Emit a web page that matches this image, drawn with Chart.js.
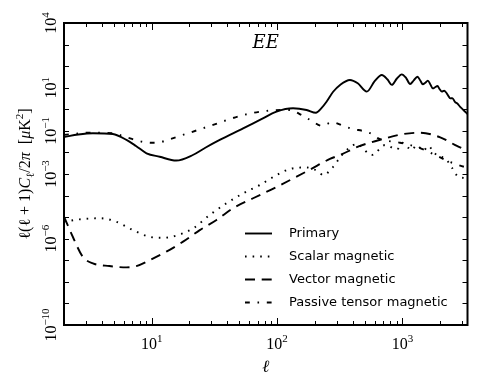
<!DOCTYPE html>
<html>
<head>
<meta charset="utf-8">
<script src="https://cdn.jsdelivr.net/npm/chart.js@4/dist/chart.umd.min.js"></script>
<style>
html,body{margin:0;padding:0;background:#fff;}
#c{display:block;}
</style>
</head>
<body>
<canvas id="c" width="479" height="388"></canvas>
<script>
// ---- data ----
const primaryL = [2, 2.6, 3.4, 4.9, 6.3, 7.5, 9.1, 11.6, 15.7, 21.3, 27, 34.9, 53.6, 75, 99, 134, 172, 204, 225, 248, 280, 318, 381, 440, 519, 600, 684, 760, 822, 900, 987, 1070, 1150, 1230, 1316, 1390, 1452, 1520, 1593, 1670, 1746, 1820, 1901, 1980, 2060, 2150, 2230, 2320, 2400, 2500, 2620, 2750, 2884, 3050, 3300];
const primaryV = [5.2e-2, 6.8e-2, 7.8e-2, 7.1e-2, 3.8e-2, 2.0e-2, 9.1e-3, 6.3e-3, 4.2e-3, 7.6e-3, 1.7e-2, 3.8e-2, 0.13, 0.35, 0.78, 1.11, 0.93, 0.69, 1.1, 2.24, 6.5, 13.5, 22.9, 16, 6.6, 20, 38.9, 24, 13.5, 26, 41.7, 28, 14.8, 22, 32.4, 21, 14.5, 17, 21.4, 14, 9.3, 10.5, 12.0, 8.5, 6.6, 7.2, 6.0, 4.2, 3.2, 3.3, 2.2, 1.8, 1.3, 0.95, 0.6];

const scalarL = [2, 2.66, 3.85, 5.2, 7.1, 9.6, 12.3, 15.7, 21.4, 29, 39.5, 53.6, 73, 99, 131, 172, 213, 233, 281, 329, 432, 569, 727, 906, 1000, 1186, 1300, 1462, 1612, 1788, 2060, 2250, 2490, 2800, 3300];
const scalarV = [6.2e-6, 7.9e-6, 8.9e-6, 6.2e-6, 2.5e-6, 1.23e-6, 1.1e-6, 1.4e-6, 3.0e-6, 1.26e-5, 4.4e-5, 1.26e-4, 3.1e-4, 8.9e-4, 1.8e-3, 2.0e-3, 1.3e-3, 8.9e-4, 2.2e-3, 7.6e-3, 2.4e-2, 7.6e-3, 2.2e-2, 1.4e-2, 2.8e-2, 1.3e-2, 2.2e-2, 1.2e-2, 2.0e-2, 9.4e-3, 6.2e-3, 4.5e-3, 1.9e-3, 7.3e-4, 6.5e-4];

const vectorL = [2, 2.35, 2.82, 3.4, 4.6, 6.3, 7.55, 9.6, 13.1, 17.8, 24.2, 32.9, 44.6, 64.4, 99, 183, 264, 318, 458, 703, 1016, 1380, 2000, 2716, 3300];
const vectorV = [1.05e-5, 1.23e-6, 1.47e-7, 7.2e-8, 5.4e-8, 4.7e-8, 5.4e-8, 1.0e-7, 2.5e-7, 7.3e-7, 2.5e-6, 7.4e-6, 2.6e-5, 7.5e-5, 2.5e-4, 1.6e-3, 5.0e-3, 7.6e-3, 2.0e-2, 4.2e-2, 7.1e-2, 8.2e-2, 5.0e-2, 2.0e-2, 1.2e-2];

const tensorL = [2, 3.2, 4.9, 6.3, 9.1, 10.9, 13.9, 20.1, 30.9, 53.6, 85, 126, 157, 189, 227, 277, 337, 405, 487, 579, 642, 957, 1380, 1820, 2400, 3300];
const tensorV = [6.5e-2, 8.2e-2, 7.8e-2, 5.0e-2, 2.9e-2, 2.8e-2, 4.1e-2, 8.2e-2, 0.19, 0.54, 0.86, 0.93, 0.54, 0.29, 0.17, 0.25, 0.17, 0.12, 9.8e-2, 6.9e-2, 4.5e-2, 2.8e-2, 1.6e-2, 7.6e-3, 3.6e-3, 1.9e-3];

const seriesNames = ['Primary', 'Scalar magnetic', 'Vector magnetic', 'Passive tensor magnetic'];
const xTickExps = [1, 2, 3];
const yTickExps = [4, 1, -1, -3, -6, -10];
const xMin = 2, xMax = 3300, yMin = 1e-10, yMax = 1e4;
const panelLabel = 'EE';

// ---- chart ----
const SERIF = '"Liberation Serif","DejaVu Serif",serif';
const SANS = '"DejaVu Sans",sans-serif';
const toXY = (L, V) => L.map((l, i) => ({x: l, y: V[i]}));
const dashes = [[], [1.6, 6], [10, 6.7], [4.8, 7.7, 1.6, 7.7]];
const lw = 1.9;

const datasets = [
  {label: seriesNames[0], data: toXY(primaryL, primaryV)},
  {label: seriesNames[1], data: toXY(scalarL, scalarV)},
  {label: seriesNames[2], data: toXY(vectorL, vectorV)},
  {label: seriesNames[3], data: toXY(tensorL, tensorV)}
].map((d, i) => Object.assign(d, {
  borderColor: '#000', borderWidth: lw, borderDash: dashes[i],
  pointRadius: 0, fill: false, cubicInterpolationMode: 'monotone'
}));

function supLabel(ctx, base, sup, cx, baseline, bf, sf, rise) {
  ctx.font = bf; const wb = ctx.measureText(base).width;
  ctx.font = sf; const ws = ctx.measureText(sup).width;
  const x0 = cx - (wb + ws) / 2;
  ctx.textAlign = 'left'; ctx.textBaseline = 'alphabetic';
  ctx.font = bf; ctx.fillText(base, x0, baseline);
  ctx.font = sf; ctx.fillText(sup, x0 + wb, baseline - rise);
}

const decor = {
  id: 'decor',
  afterDraw(chart) {
    const ctx = chart.ctx, a = chart.chartArea;
    const xs = chart.scales.x, ys = chart.scales.y;
    ctx.save();
    ctx.fillStyle = '#000'; ctx.strokeStyle = '#000';
    // ticks
    ctx.lineWidth = 1;
    for (let d = 0; d <= 3; d++) {
      for (let m = 1; m <= 9; m++) {
        const v = m * Math.pow(10, d);
        if (v < xMin || v > xMax) continue;
        const px = Math.round(xs.getPixelForValue(v)) + 0.5;
        const len = m === 1 ? 7 : 4;
        ctx.beginPath();
        ctx.moveTo(px, a.bottom); ctx.lineTo(px, a.bottom - len);
        ctx.moveTo(px, a.top); ctx.lineTo(px, a.top + len);
        ctx.stroke();
      }
    }
    for (let e = -10; e <= 4; e++) {
      const py = Math.round(ys.getPixelForValue(Math.pow(10, e))) + 0.5;
      ctx.beginPath();
      ctx.moveTo(a.left, py); ctx.lineTo(a.left + 5, py);
      ctx.moveTo(a.right, py); ctx.lineTo(a.right - 5, py);
      ctx.stroke();
    }
    // frame
    ctx.lineWidth = 2;
    ctx.strokeRect(a.left, a.top, a.right - a.left, a.bottom - a.top);
    // x tick labels
    const bf = '16px ' + SERIF, sf = '11px ' + SERIF;
    xTickExps.forEach(e => {
      const px = xs.getPixelForValue(Math.pow(10, e));
      supLabel(ctx, '10', String(e), px, 349, bf, sf, 7);
    });
    // y tick labels (rotated)
    yTickExps.forEach(e => {
      const py = ys.getPixelForValue(Math.pow(10, e));
      ctx.save(); ctx.translate(56, py); ctx.rotate(-Math.PI / 2);
      supLabel(ctx, '10', (e < 0 ? '\u2212' : '') + Math.abs(e), 0, 0, bf, sf, 7);
      ctx.restore();
    });
    // x title
    ctx.font = 'italic 17px ' + SERIF; ctx.textAlign = 'center'; ctx.textBaseline = 'alphabetic';
    ctx.fillText('\u2113', (a.left + a.right) / 2, 372);
    // y title
    const F = 16;
    const runs = [
      {t: '\u2113(\u2113 + 1)', f: F + 'px ' + SERIF, dy: 0},
      {t: 'C', f: 'italic ' + F + 'px ' + SERIF, dy: 0},
      {t: '\u2113', f: '11px ' + SERIF, dy: 4},
      {t: '/2', f: F + 'px ' + SERIF, dy: 0},
      {t: '\u03c0', f: 'italic ' + F + 'px ' + SERIF, dy: 0},
      {t: '  [', f: F + 'px ' + SERIF, dy: 0},
      {t: '\u03bc', f: 'italic ' + F + 'px ' + SERIF, dy: 0},
      {t: 'K', f: F + 'px ' + SERIF, dy: 0},
      {t: '2', f: '11px ' + SERIF, dy: -7},
      {t: ']', f: F + 'px ' + SERIF, dy: 0}
    ];
    let tot = 0;
    runs.forEach(r => { ctx.font = r.f; r.w = ctx.measureText(r.t).width; tot += r.w; });
    ctx.save(); ctx.translate(30, (a.top + a.bottom) / 2); ctx.rotate(-Math.PI / 2);
    ctx.textAlign = 'left';
    let cx = -tot / 2;
    runs.forEach(r => { ctx.font = r.f; ctx.fillText(r.t, cx, r.dy); cx += r.w; });
    ctx.restore();
    // panel label
    ctx.font = 'italic 18px "DejaVu Serif",serif'; ctx.textAlign = 'center';
    ctx.fillText(panelLabel, (a.left + a.right) / 2, 48);
    // legend
    const rows = [233.5, 256.5, 279.5, 302.5];
    chart.data.datasets.forEach((ds, i) => {
      ctx.lineWidth = lw; ctx.setLineDash(ds.borderDash);
      ctx.beginPath(); ctx.moveTo(245, rows[i]); ctx.lineTo(272, rows[i]); ctx.stroke();
      ctx.setLineDash([]);
      ctx.font = '13px ' + SANS; ctx.textAlign = 'left'; ctx.textBaseline = 'middle';
      ctx.fillText(ds.label, 289, rows[i]);
    });
    ctx.restore();
  }
};

new Chart(document.getElementById('c'), {
  type: 'line',
  data: {datasets},
  options: {
    responsive: false, animation: false, devicePixelRatio: 1,
    layout: {padding: {left: 64, top: 23, right: 11.5, bottom: 63}},
    plugins: {legend: {display: false}, tooltip: {enabled: false}},
    scales: {
      x: {type: 'logarithmic', min: xMin, max: xMax, display: false},
      y: {type: 'logarithmic', min: yMin, max: yMax, display: false}
    }
  },
  plugins: [decor]
});
</script>
</body>
</html>
